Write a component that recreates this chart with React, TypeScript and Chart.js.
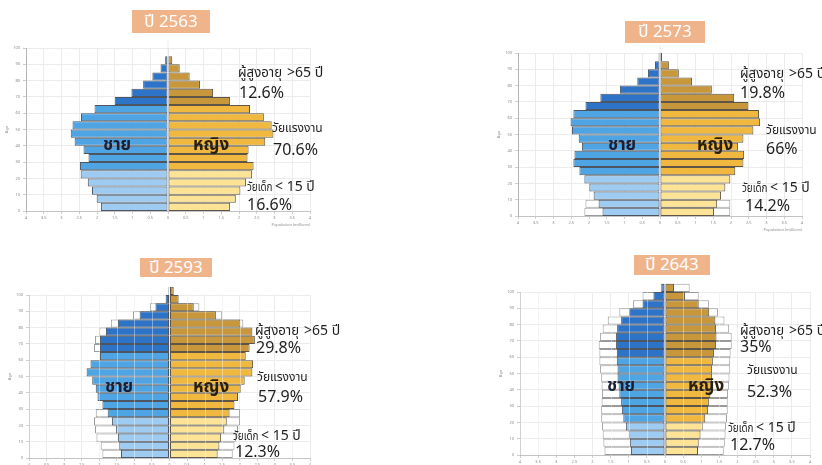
import React, { useEffect, useRef } from "react";
import { Chart, registerables } from "chart.js";

Chart.register(...registerables);

// Five-year age groups, 0-4 up to 100+
const ageGroups = [
  "0-4", "5-9", "10-14", "15-19", "20-24", "25-29", "30-34", "35-39", "40-44", "45-49",
  "50-54", "55-59", "60-64", "65-69", "70-74", "75-79", "80-84", "85-89", "90-94", "95-99", "100+",
];

// Population in millions per age group (index matches ageGroups)
const male2563 = [1.89, 2.01, 2.14, 2.26, 2.46, 2.48, 2.24, 2.38, 2.63, 2.74, 2.69, 2.45, 2.07, 1.5, 1.03, 0.7, 0.44, 0.21, 0.08, 0.02, 0.02];
const female2563 = [1.75, 1.91, 2.04, 2.2, 2.37, 2.41, 2.24, 2.27, 2.74, 2.97, 2.92, 2.7, 2.31, 1.75, 1.27, 0.9, 0.61, 0.33, 0.12, 0.02, 0.02];

const male2573 = [1.62, 1.73, 1.87, 1.99, 2.13, 2.27, 2.44, 2.41, 2.2, 2.29, 2.48, 2.52, 2.44, 2.1, 1.68, 1.13, 0.64, 0.34, 0.14, 0.04, 0.02];
const female2573 = [1.52, 1.61, 1.72, 1.84, 1.98, 2.12, 2.35, 2.37, 2.2, 2.35, 2.63, 2.82, 2.79, 2.49, 2.09, 1.46, 0.9, 0.53, 0.25, 0.06, 0.02];
const male2573Outline = [2.13, 2.1, null, null, null, null, null, null, null, null, null, null, null, null, null, null, null, null, null, null, null];
const female2573Outline = [1.98, 1.98, null, null, null, null, null, null, null, null, null, null, null, null, null, null, null, null, null, null, null];

const male2593 = [1.38, 1.43, 1.47, 1.52, 1.64, 1.76, 1.91, 2.05, 2.1, 2.2, 2.36, 2.25, 1.98, 1.98, 1.98, 1.81, 1.47, 0.85, 0.4, 0.11, 0.03];
const female2593 = [1.37, 1.42, 1.47, 1.56, 1.63, 1.71, 1.85, 1.95, 2.04, 2.14, 2.36, 2.38, 2.17, 2.28, 2.43, 2.36, 2.02, 1.32, 0.69, 0.26, 0.12];
const male2593Outline = [1.91, 1.96, 2.08, 2.12, 2.15, 2.1, null, null, null, null, null, null, null, 2.15, 2.12, 2.0, 1.67, 1.04, 0.56, null, null];
const female2593Outline = [1.8, 1.85, 1.9, 1.95, 2.01, 2.01, null, null, null, null, null, null, null, null, null, null, 2.1, 1.5, 0.85, null, null];

const male2643 = [0.94, 0.97, 1.0, 1.08, 1.15, 1.19, 1.21, 1.26, 1.28, 1.31, 1.31, 1.33, 1.33, 1.35, 1.35, 1.32, 1.21, 0.99, 0.62, 0.32, 0.1];
const female2643 = [0.91, 0.93, 0.98, 1.04, 1.11, 1.19, 1.21, 1.25, 1.28, 1.3, 1.3, 1.32, 1.35, 1.41, 1.42, 1.41, 1.39, 1.22, 0.93, 0.55, 0.25];
const male2643Outline = [1.67, 1.7, 1.72, 1.74, 1.76, 1.76, 1.75, 1.74, 1.75, 1.76, 1.79, 1.81, 1.81, 1.83, 1.79, 1.72, 1.58, 1.26, 0.88, 0.62, 0.12];
const female2643Outline = [1.62, 1.65, 1.67, 1.68, 1.71, 1.73, 1.73, 1.74, 1.77, 1.78, 1.8, 1.8, 1.81, 1.84, 1.84, 1.77, 1.64, 1.46, 1.21, 0.93, 0.68];

// Headline shares per projection year
const yearLabels = ["ปี 2563", "ปี 2573", "ปี 2593", "ปี 2643"];
const elderShares = ["12.6%", "19.8%", "29.8%", "35%"];
const workingShares = ["70.6%", "66%", "57.9%", "52.3%"];
const childShares = ["16.6%", "14.2%", "12.3%", "12.7%"];

// Axis ticks
const xTickStep = 0.5;
const xRange = 4;
const yTickStep = 10;
const yRange = 100;

const MALE = { child: "#9DCBF1", work: "#4FA4E4", elder: "#2D73C7" };
const FEMALE = { child: "#FCE396", work: "#F0B83F", elder: "#C9973B" };
const FONT = "'Noto Sans', 'Noto Sans Thai', 'DejaVu Sans', sans-serif";

const Y_AXIS_W = 22;
const X_AXIS_H = 16;
const PAD_TOP = 14;
const PAD_RIGHT = 16;

type XY = [number, number];
type PanelLayout = {
  plotLeft: number; plotRight: number; plotTop: number; plotBottom: number;
  childBars: number; elderStart: number; gridOverBars: boolean;
  title: { left: number; top: number; width: number; height: number };
  elder: XY; elderPct: XY; work: XY; workPct: XY; child: XY; childPct: XY;
  maleText: XY; femaleText: XY;
};

// Label anchors: [left, baseline]
const layouts: PanelLayout[] = [
  {
    plotLeft: 26, plotRight: 310, plotTop: 48, plotBottom: 211, childBars: 5, elderStart: 13, gridOverBars: false,
    title: { left: 132, top: 10, width: 78, height: 23 },
    elder: [238, 77], elderPct: [239, 98], work: [272, 133], workPct: [273, 155],
    child: [247, 191], childPct: [247, 210], maleText: [103, 150], femaleText: [193, 150],
  },
  {
    plotLeft: 518, plotRight: 802, plotTop: 53, plotBottom: 216, childBars: 5, elderStart: 13, gridOverBars: false,
    title: { left: 625, top: 21, width: 80, height: 22 },
    elder: [740, 78], elderPct: [740, 98], work: [766, 135], workPct: [766, 154],
    child: [742, 192], childPct: [745, 211], maleText: [608, 150], femaleText: [697, 150],
  },
  {
    plotLeft: 29, plotRight: 310, plotTop: 295, plotBottom: 458, childBars: 5, elderStart: 13, gridOverBars: true,
    title: { left: 140, top: 258, width: 72, height: 19 },
    elder: [255, 335], elderPct: [256, 353], work: [257, 382], workPct: [258, 402],
    child: [233, 440], childPct: [235, 457], maleText: [105, 392], femaleText: [193, 392],
  },
  {
    plotLeft: 520, plotRight: 810, plotTop: 292, plotBottom: 455, childBars: 4, elderStart: 12, gridOverBars: true,
    title: { left: 634, top: 255, width: 76, height: 20 },
    elder: [740, 335], elderPct: [740, 352], work: [747, 375], workPct: [747, 397],
    child: [728, 432], childPct: [730, 450], maleText: [607, 391], femaleText: [688, 391],
  },
];

const seriesByPanel = [
  { male: male2563, female: female2563, maleOutline: null, femaleOutline: null },
  { male: male2573, female: female2573, maleOutline: male2573Outline, femaleOutline: female2573Outline },
  { male: male2593, female: female2593, maleOutline: male2593Outline, femaleOutline: female2593Outline },
  { male: male2643, female: female2643, maleOutline: male2643Outline, femaleOutline: female2643Outline },
];

const ageMid = (i: number) => i * 5 + 2.5;

function toPoints(values: (number | null)[] | null, sign: number) {
  if (!values) return [];
  const pts: { x: number; y: number; i: number; group: string }[] = [];
  values.forEach((v, i) => {
    if (v !== null && v !== undefined) pts.push({ x: sign * v, y: ageMid(i), i, group: ageGroups[i] });
  });
  return pts;
}

// Faint white gridlines drawn across the coloured bars
const gridOverBarsPlugin = {
  id: "gridOverBars",
  afterDatasetsDraw(chart: any, _args: any, opts: any) {
    if (!opts || !opts.enabled) return;
    const { ctx, chartArea, scales } = chart;
    ctx.save();
    ctx.beginPath();
    ctx.rect(chartArea.left, chartArea.top, chartArea.right - chartArea.left, chartArea.bottom - chartArea.top);
    ctx.clip();
    ctx.strokeStyle = "rgba(255,255,255,0.38)";
    ctx.lineWidth = 1;
    for (const t of scales.x.ticks) {
      if (t.value === 0) continue;
      const px = Math.round(scales.x.getPixelForValue(t.value)) + 0.5;
      ctx.beginPath();
      ctx.moveTo(px, chartArea.top);
      ctx.lineTo(px, chartArea.bottom);
      ctx.stroke();
    }
    ctx.restore();
  },
};

function Pyramid({ index }: { index: number }) {
  const ref = useRef<HTMLCanvasElement | null>(null);
  const lay = layouts[index];
  const series = seriesByPanel[index];
  const plotW = lay.plotRight - lay.plotLeft;
  const plotH = lay.plotBottom - lay.plotTop;
  const width = Y_AXIS_W + plotW + PAD_RIGHT;
  const height = PAD_TOP + plotH + X_AXIS_H;

  useEffect(() => {
    if (!ref.current) return;
    const band = (palette: typeof MALE) => (c: any) => {
      const i = c.raw ? c.raw.i : 0;
      if (i < lay.childBars) return palette.child;
      if (i >= lay.elderStart) return palette.elder;
      return palette.work;
    };
    const barCommon = {
      grouped: false,
      barPercentage: 1,
      categoryPercentage: 1,
      borderWidth: 1,
      borderSkipped: false,
      inflateAmount: 0,
      clip: false as const,
    };
    const outlineStyle = { ...barCommon, backgroundColor: "#ffffff", borderColor: "#9a9a9a", order: 2 };
    const chart = new Chart(ref.current, {
      type: "bar",
      plugins: [gridOverBarsPlugin],
      data: {
        datasets: [
          { label: "ชาย", data: toPoints(series.male, -1), backgroundColor: band(MALE), borderColor: "#4d5560", order: 1, ...barCommon },
          { label: "หญิง", data: toPoints(series.female, 1), backgroundColor: band(FEMALE), borderColor: "#5c5548", order: 1, ...barCommon },
          { label: "ชาย (เดิม)", data: toPoints(series.maleOutline, -1), ...outlineStyle },
          { label: "หญิง (เดิม)", data: toPoints(series.femaleOutline, 1), ...outlineStyle },
        ] as any,
      },
      options: {
        indexAxis: "y",
        animation: false,
        responsive: false,
        events: [],
        layout: { padding: { top: PAD_TOP, right: PAD_RIGHT, left: 0, bottom: 0 } },
        plugins: {
          legend: { display: false },
          tooltip: { enabled: false },
          gridOverBars: { enabled: lay.gridOverBars },
        },
        scales: {
          x: {
            type: "linear",
            min: -xRange,
            max: xRange,
            offset: false,
            ticks: {
              stepSize: xTickStep,
              autoSkip: false,
              maxRotation: 0,
              padding: 1,
              color: "#8a8a8a",
              font: { size: 4, family: FONT },
              callback: (v: any) => String(Math.abs(Number(v))),
            },
            grid: { color: "#ececec", tickLength: 3, tickColor: "#cfcfcf", offset: false },
            border: { color: "#c4c4c4" },
            title: { display: true, text: "Population (millions)", align: "end", color: "#8a8a8a", font: { size: 4, family: FONT }, padding: 0 },
            afterFit: (s: any) => { s.height = X_AXIS_H; },
          },
          y: {
            type: "linear",
            min: 0,
            max: yRange,
            offset: false,
            ticks: { stepSize: yTickStep, padding: 3, color: "#8a8a8a", font: { size: 4, family: FONT } },
            grid: { color: "#ececec", tickLength: 3, tickColor: "#cfcfcf", offset: false },
            border: { color: "#b4b4b4" },
            title: { display: true, text: "Age", color: "#8a8a8a", font: { size: 4, family: FONT }, padding: 0 },
            afterFit: (s: any) => { s.width = Y_AXIS_W; },
          },
        },
      } as any,
    });
    return () => chart.destroy();
  }, [index]);

  return (
    <canvas
      ref={ref}
      width={width}
      height={height}
      style={{ position: "absolute", left: lay.plotLeft - Y_AXIS_W, top: lay.plotTop - PAD_TOP, width, height }}
    />
  );
}

// Places text so that its baseline sits at the given y
function Line({ at, size, children, weight = 400, color = "#1e1e1e" }: any) {
  const top = at[1] - Math.round(size * 0.888);
  return (
    <div
      style={{
        position: "absolute",
        left: at[0],
        top,
        fontFamily: FONT,
        fontSize: size,
        fontWeight: weight,
        color,
        whiteSpace: "nowrap",
        lineHeight: 1,
      }}
    >
      {children}
    </div>
  );
}

// Thai words squeezed horizontally into a fixed width
function Narrow({ width, scale, size, children }: any) {
  return (
    <span style={{ display: "inline-block", width }}>
      <span style={{ display: "inline-block", fontSize: size, transform: `scaleX(${scale})`, transformOrigin: "0 50%" }}>
        {children}
      </span>
    </span>
  );
}

function Panel({ index }: { index: number }) {
  const lay = layouts[index];
  return (
    <>
      <Pyramid index={index} />
      <div
        style={{
          position: "absolute",
          left: lay.title.left,
          top: lay.title.top,
          width: lay.title.width,
          height: lay.title.height,
          background: "#F0B48B",
          color: "#ffffff",
          fontFamily: FONT,
          fontSize: 17,
          display: "flex",
          alignItems: "center",
          justifyContent: "center",
        }}
      >
        {yearLabels[index]}
      </div>
      <Line at={lay.elder} size={14}>
        <Narrow width={49} scale={0.98} size={13.5}>ผู้สูงอายุ</Narrow>&gt;65 ปี
      </Line>
      <Line at={lay.elderPct} size={16}>{elderShares[index]}</Line>
      <Line at={lay.work} size={12}>
        <Narrow width={49} scale={1} size={12}>วัยแรงงาน</Narrow>
      </Line>
      <Line at={lay.workPct} size={16}>{workingShares[index]}</Line>
      <Line at={lay.child} size={14}>
        <Narrow width={28} scale={0.82} size={12}>วัยเด็ก</Narrow>&lt; 15 ปี
      </Line>
      <Line at={lay.childPct} size={16}>{childShares[index]}</Line>
      <Line at={lay.maleText} size={17} weight={700} color="#1c1f33">ชาย</Line>
      <Line at={lay.femaleText} size={17} weight={700} color="#2a1f0c">หญิง</Line>
    </>
  );
}

export default function App() {
  return (
    <div style={{ position: "absolute", left: 0, top: 0, width: 822, height: 465, background: "#ffffff", overflow: "hidden" }}>
      {layouts.map((_, i) => (
        <Panel key={i} index={i} />
      ))}
    </div>
  );
}
